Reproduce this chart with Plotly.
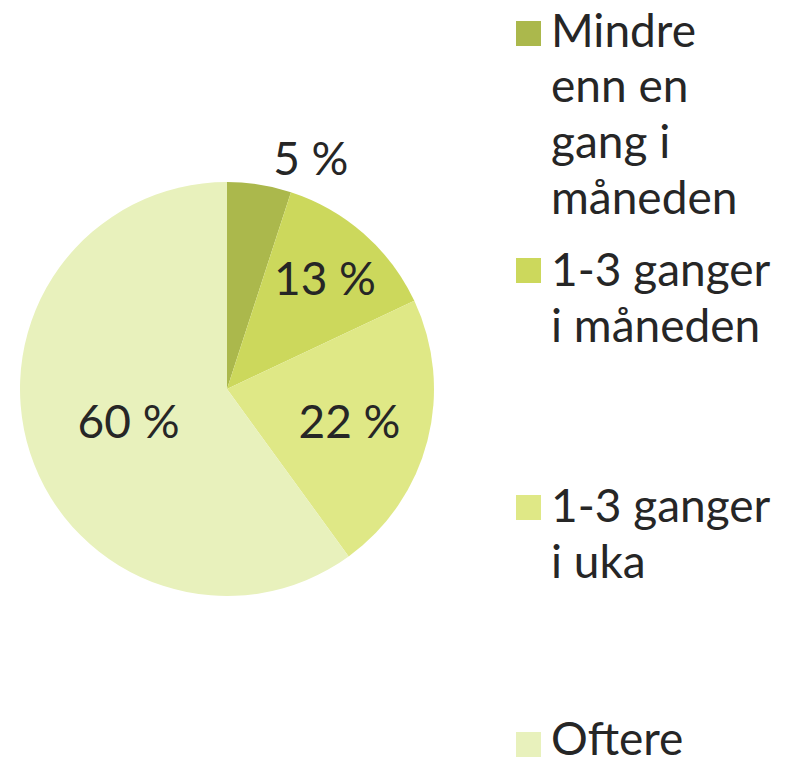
import plotly.graph_objects as go

categories = ["Mindre enn en gang i måneden", "1-3 ganger i måneden", "1-3 ganger i uka", "Oftere"]
legend_lines = [["Mindre", "enn en", "gang i", "måneden"], ["1-3 ganger", "i måneden"], ["1-3 ganger", "i uka"], ["Oftere"]]
values = [5, 13, 22, 60]
colors = ["#abb84c", "#ccd85c", "#dfe886", "#e8f1bc"]
text_positions = ["outside", "inside", "inside", "inside"]

W, H = 785, 761
FONT = "Lato"
TXT = "#262626"
FS = 46

cx, cy, R = 227, 389, 207

fig = go.Figure(go.Pie(
    labels=categories,
    values=values,
    sort=False,
    direction="clockwise",
    rotation=0,
    marker=dict(colors=colors, line=dict(width=0)),
    texttemplate="%{value} %",
    textposition=text_positions,
    insidetextorientation="horizontal",
    textfont=dict(family=FONT, size=FS, color=TXT),
    showlegend=False,
    domain=dict(x=[(cx - R) / W, (cx + R) / W], y=[1 - (cy + R) / H, 1 - (cy - R) / H]),
    automargin=False,
))

# legend drawn as shapes + annotations (pixel positions)
sq_tops = [21, 258, 495, 732]
first_baselines = [48, 287, 523, 756]
line_gap = 55.5
sq = 25
shapes = []
annotations = []
for i, (lines, col) in enumerate(zip(legend_lines, colors)):
    t = sq_tops[i]
    shapes.append(dict(type="rect", xref="paper", yref="paper",
                       x0=516 / W, x1=(516 + sq) / W,
                       y0=1 - (t + sq) / H, y1=1 - t / H,
                       fillcolor=col, line=dict(width=0)))
    for j, ln in enumerate(lines):
        b = first_baselines[i] + j * line_gap
        top = b - 48
        annotations.append(dict(xref="paper", yref="paper", x=(553 - 4) / W, y=1 - top / H,
                                xanchor="left", yanchor="top", align="left", showarrow=False,
                                text=ln, font=dict(family=FONT, size=FS, color=TXT)))

fig.update_layout(
    width=W, height=H,
    margin=dict(l=0, r=0, t=0, b=0),
    paper_bgcolor="white", plot_bgcolor="white",
    shapes=shapes, annotations=annotations,
)

fig.write_html("out.html", config={"displayModeBar": False},
               post_script="document.body.style.margin='0';document.body.style.overflow='hidden';")
